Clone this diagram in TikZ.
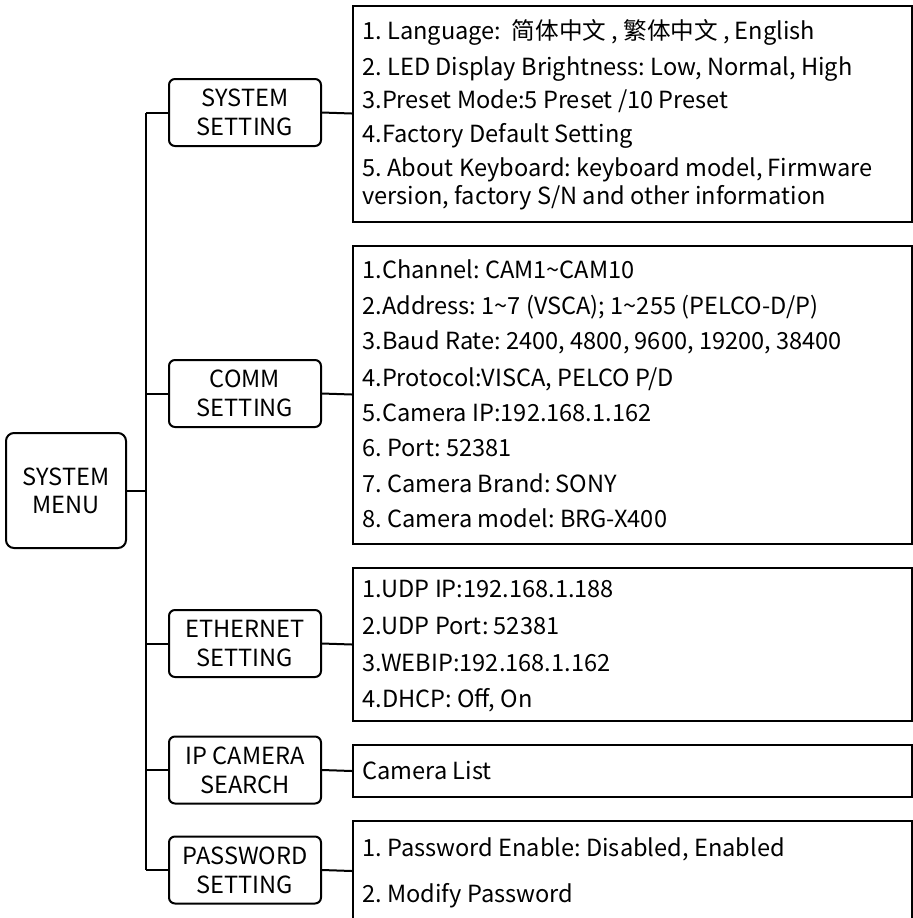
\documentclass[tikz,border=0pt]{standalone}
\usepackage{fontspec}
\setmainfont{Noto Sans CJK SC}
\frenchspacing
\tikzset{
    menubox/.style={rectangle,draw,rounded corners=4pt,line width=1pt,minimum width=60pt,minimum height=57.5pt,align=center,inner sep=0pt,font=\fontsize{11.8}{14}\selectfont},
    subbox/.style={rectangle,draw,rounded corners=3pt,line width=1pt,minimum width=76pt,minimum height=33.5pt,align=center,inner sep=0pt,font=\fontsize{11.8}{14.5}\selectfont},
    listbox/.style={rectangle,draw,line width=1pt,minimum width=279.5pt,anchor=north west,inner sep=0pt},
    item/.style={anchor=base west,inner sep=0pt,font=\fontsize{11.8}{14}\selectfont},
    edge/.style={-,line width=1pt,draw=black},
}

\begin{document}
\begin{tikzpicture}[x=0.5pt,y=-0.5pt]
    \useasboundingbox (0,0) rectangle (913,918);
    \clip (0,0) rectangle (913,918);
    % left column
    \node[menubox] (menu) at (66,490.5) {SYSTEM\\MENU};
    \node[subbox] (sys) at (245,112.5) {SYSTEM\\SETTING};
    \node[subbox] (comm) at (245,393.5) {COMM\\SETTING};
    \node[subbox] (eth) at (245,643.5) {ETHERNET\\SETTING};
    \node[subbox] (cam) at (245,770) {IP CAMERA\\SEARCH};
    \node[subbox] (pwd) at (245,870) {PASSWORD\\SETTING};
    \coordinate (ttop) at (146,112.5);
    \coordinate (tbot) at (146,870);
    % right column
    \node[listbox,minimum height=108pt] (syslist) at (352,4.5) {};
    \node[listbox,minimum height=149pt] (commlist) at (352,244.5) {};
    \node[listbox,minimum height=76.5pt] (ethlist) at (352,567) {};
    \node[listbox,minimum height=26pt] (camlist) at (352,744) {};
    \node[listbox,minimum height=50pt] (pwdlist) at (352,820) {};
    % items
    \node[item] (s1) at (362,39) {1. Language:~ 简体中文 , 繁体中文 , English};
    \node[item] (s2) at (362,75) {2. LED Display Brightness: Low, Normal, High};
    \node[item] (s3) at (362,108) {3.Preset Mode:5 Preset /10 Preset};
    \node[item] (s4) at (362,142) {4.Factory Default Setting};
    \node[item] (s5) at (362,176) {5. About Keyboard: keyboard model, Firmware};
    \node[item] (s6) at (362,204) {version, factory S/N and other information};
    \node[item] (c1) at (362,278) {1.Channel: CAM1\textasciitilde CAM10};
    \node[item] (c2) at (362,314) {2.Address: 1\textasciitilde 7 (VSCA); 1\textasciitilde 255 (PELCO-D/P)};
    \node[item] (c3) at (362,349) {3.Baud Rate: 2400, 4800, 9600, 19200, 38400};
    \node[item] (c4) at (362,386) {4.Protocol:VISCA, PELCO P/D};
    \node[item] (c5) at (362,421) {5.Camera IP:192.168.1.162};
    \node[item] (c6) at (362,456) {6. Port: 52381};
    \node[item] (c7) at (362,492) {7. Camera Brand: SONY};
    \node[item] (c8) at (362,527) {8. Camera model: BRG-X400};
    \node[item] (e1) at (362,597) {1.UDP IP:192.168.1.188};
    \node[item] (e2) at (362,634) {2.UDP Port: 52381};
    \node[item] (e3) at (362,671) {3.WEBIP:192.168.1.162};
    \node[item] (e4) at (362,707) {4.DHCP: Off, On};
    \node[item] (i1) at (362,779) {Camera List};
    \node[item] (p1) at (362,856) {1. Password Enable: Disabled, Enabled};
    \node[item] (p2) at (362,902) {2. Modify Password};
    % connectors
    \draw[edge] (ttop) -- (tbot);
    \draw[edge] (menu.east) -- (menu.east -| ttop);
    \foreach \s in {sys,comm,eth,cam,pwd}
        \draw[edge] (\s.west) -- (\s.west -| ttop);
    \draw[edge] (sys.east) -- (syslist.west);
    \draw[edge] (comm.east) -- (commlist.west);
    \draw[edge] (eth.east) -- (ethlist.west);
    \draw[edge] (cam.east) -- (camlist.west);
    \draw[edge] (pwd.east) -- (pwdlist.west);
\end{tikzpicture}
\end{document}
